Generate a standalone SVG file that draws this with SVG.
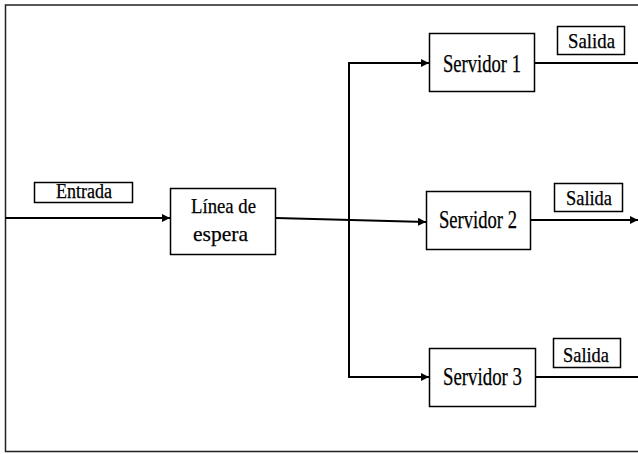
<svg xmlns="http://www.w3.org/2000/svg" width="638" height="454" viewBox="0 0 638 454">
<style>
.box{fill:#fff;stroke:#000;stroke-width:1.5}
.t{font-family:"Liberation Serif","Times New Roman",serif;fill:#000;text-anchor:middle;stroke:#000;stroke-width:0.25}
.s{font-size:25px}
.o{font-size:21px}
.c{fill:none;stroke:#000;stroke-width:2}
</style>
<defs>
<marker id="ah" viewBox="0 0 10 10" refX="10" refY="5" markerWidth="4" markerHeight="4" orient="auto" markerUnits="strokeWidth">
<path d="M0,0 L10,5 L0,10 z" fill="#000"/>
</marker>
</defs>
<rect width="638" height="454" fill="#fff"/>
<path d="M645,5 H5.5 V451.5 H645" fill="none" stroke="#222" stroke-width="1.5"/>
<g id="connectors">
<path class="c" d="M5,218 H170" marker-end="url(#ah)"/>
<path class="c" d="M276,218 L426,222" marker-end="url(#ah)"/>
<path class="c" d="M429,63 H349 V377 H429" marker-end="url(#ah)"/>
<path class="c" d="M349,63 H429" marker-end="url(#ah)"/>
<path class="c" d="M535,63 H640"/>
<path class="c" d="M531,220 H638" marker-end="url(#ah)"/>
<path class="c" d="M536,377 H640"/>
</g>
<g id="entrada"><rect class="box" x="34.5" y="182.5" width="98" height="20"/><text class="t" x="84" y="198" font-size="20" textLength="56" lengthAdjust="spacingAndGlyphs">Entrada</text></g>
<g id="linea"><rect class="box" x="170.5" y="188.5" width="105" height="66"/><text class="t" x="223.5" y="213" font-size="22" textLength="65" lengthAdjust="spacingAndGlyphs">Línea de</text><text class="t" x="220.5" y="241" font-size="22" textLength="55" lengthAdjust="spacingAndGlyphs">espera</text></g>
<g id="servidor1"><rect class="box" x="429.5" y="33.5" width="105" height="58"/><text class="t s" x="482" y="72" textLength="78" lengthAdjust="spacingAndGlyphs">Servidor 1</text></g>
<g id="servidor2"><rect class="box" x="426.5" y="191.5" width="104" height="58"/><text class="t s" x="478" y="228" textLength="78" lengthAdjust="spacingAndGlyphs">Servidor 2</text></g>
<g id="servidor3"><rect class="box" x="429.5" y="348.5" width="106" height="58"/><text class="t s" x="482.5" y="385" textLength="79" lengthAdjust="spacingAndGlyphs">Servidor 3</text></g>
<g id="salida1"><rect class="box" x="557.5" y="26.5" width="67" height="28"/><text class="t o" x="591.5" y="48" textLength="47" lengthAdjust="spacingAndGlyphs">Salida</text></g>
<g id="salida2"><rect class="box" x="554.5" y="183.5" width="68" height="28"/><text class="t o" x="589" y="205" textLength="46" lengthAdjust="spacingAndGlyphs">Salida</text></g>
<g id="salida3"><rect class="box" x="553.5" y="338.5" width="67" height="29"/><text class="t o" x="586" y="362" textLength="46" lengthAdjust="spacingAndGlyphs">Salida</text></g>
</svg>
